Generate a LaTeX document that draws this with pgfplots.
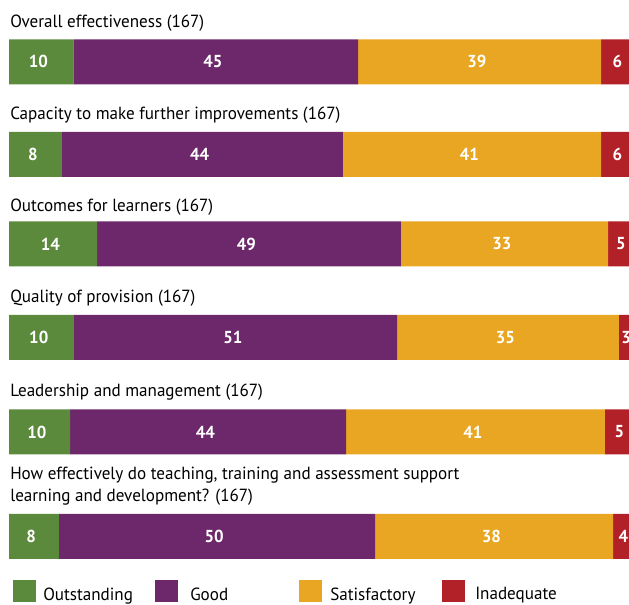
\documentclass[border=0pt]{standalone}
\usepackage{fontspec}
\setmainfont{PT Sans}[FakeStretch=0.97]
\usepackage{pgfplots}
\usepackage{pgfplotstable}
\pgfplotsset{compat=1.18}

\definecolor{cOut}{HTML}{5C8A3C}
\definecolor{cGood}{HTML}{6C286A}
\definecolor{cSat}{HTML}{E8A623}
\definecolor{cInad}{HTML}{B22028}

% segment lengths (percent) with their printed labels; pos = bar centre in px from top
\pgfplotstableread{
pos     g    gl p    pl s    sl r   rl
-61.8   10.2 10 45.2 45 38.6 39 6.0 6
-154.5  8.4  8  44.6 44 41.0 41 6.0 6
-244    14.0 14 48.2 49 32.9 33 4.9 5
-337.5  10.3 10 51.3 51 35.2 35 3.2 3
-432    9.7  10 43.8 44 41.1 41 5.4 5
-536.5  7.9  8  50.2 50 37.8 38 4.1 4
}\ratings

\pgfplotsset{
  pxframe/.style={
    x=4.725pt, y=0.75pt,
    xmin=-1.4286, xmax=98.413, ymin=-604, ymax=0,
    enlargelimits=false, hide axis, clip=false,
    anchor=south west, at={(0,0)},
  },
}
\tikzset{ttl/.style={anchor=base west, inner sep=0pt, font=\fontsize{13.2}{15}\selectfont}}

\begin{document}
\begin{tikzpicture}
\begin{axis}[
    pxframe,
    xbar stacked,
    bar width=45,
    legend image code/.code={\fill[#1] (0pt,-5.6pt) rectangle (17.25pt,10.9pt);},
    legend columns=4,
    legend style={draw=none, fill=none, inner sep=0pt, column sep=0pt,
        font=\fontsize{13.2}{15}\selectfont,
        nodes={inner sep=0pt},
        at={(axis cs:0.635,-580)}, anchor=north west},
]
\addplot[fill=cOut, draw=none] table[x=g, y=pos] {\ratings};
\addlegendentry{\makebox[89.25pt][l]{\hspace{5.25pt}Outstanding}}
\addplot[fill=cGood, draw=none] table[x=p, y=pos] {\ratings};
\addlegendentry{\makebox[90.75pt][l]{\hspace{9pt}Good}}
\addplot[fill=cSat, draw=none] table[x=s, y=pos] {\ratings};
\addlegendentry{\makebox[90pt][l]{\hspace{6pt}Satisfactory}}
\addplot[fill=cInad, draw=none] table[x=r, y=pos] {\ratings};
\addlegendentry{\makebox[80pt][l]{\hspace{7.5pt}Inadequate}}

\node[ttl] at (axis cs:0.16,-27.3) {Overall effectiveness (167)};
\node[ttl] at (axis cs:0.16,-120) {Capacity to make further improvements (167)};
\node[ttl] at (axis cs:0.16,-212) {Outcomes for learners (167)};
\node[ttl] at (axis cs:0.16,-303) {Quality of provision (167)};
\node[ttl] at (axis cs:0.16,-397) {Leadership and management (167)};
\node[ttl] at (axis cs:0.16,-479.5) {How effectively do teaching, training and assessment support};
\node[ttl] at (axis cs:0.16,-502) {learning and development? (167)};

\coordinate (bbtl) at (axis cs:-1.4286,0);
\coordinate (bbbr) at (axis cs:98.413,-604);
\end{axis}

% value labels, centred in each segment
\begin{axis}[
    pxframe,
    nodes near coords,
    point meta=explicit symbolic,
    every node near coord/.style={font=\fontsize{13}{15}\selectfont\bfseries,
        text=white, anchor=center, inner sep=0pt, xshift=-2pt},
]
\addplot[only marks, mark=none] table[x expr=\thisrow{g}/2, y=pos, meta=gl] {\ratings};
\addplot[only marks, mark=none] table[x expr=\thisrow{g}+\thisrow{p}/2, y=pos, meta=pl] {\ratings};
\addplot[only marks, mark=none] table[x expr=\thisrow{g}+\thisrow{p}+\thisrow{s}/2, y=pos, meta=sl] {\ratings};
\addplot[only marks, mark=none] table[x expr=\thisrow{g}+\thisrow{p}+\thisrow{s}+\thisrow{r}/2, y=pos, meta=rl] {\ratings};
\end{axis}
\pgfresetboundingbox
\path[use as bounding box] (bbtl) rectangle (bbbr);
\end{tikzpicture}
\end{document}
